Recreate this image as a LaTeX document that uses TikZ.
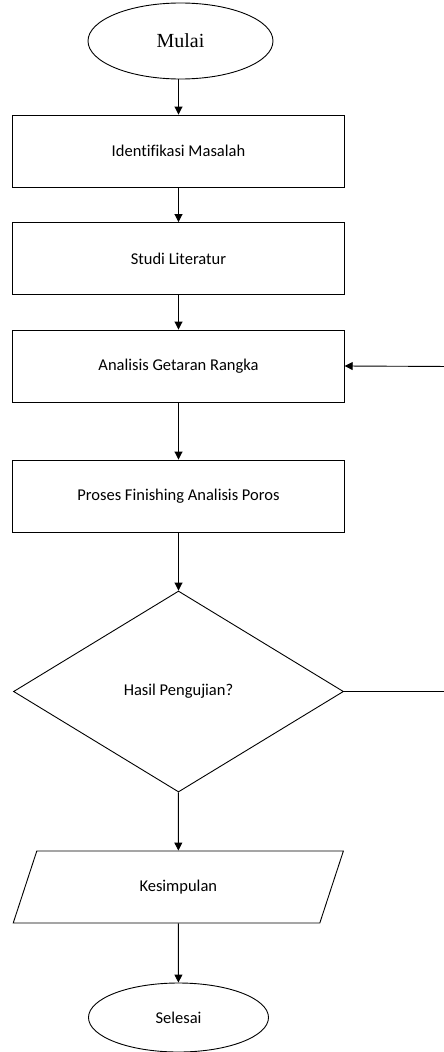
\documentclass[tikz,border=0pt]{standalone}
\usepackage{fontspec}
\setmainfont[Ligatures=NoCommon]{Carlito}
\newfontfamily\serifmul{Liberation Serif}
\usetikzlibrary{shapes.geometric,arrows.meta}
\begin{document}
\begin{tikzpicture}[x=1pt,y=-1pt,
  every node/.style={font=\fontsize{16.5}{19}\selectfont},
  proc/.style={draw,line width=0.9pt,rectangle,minimum width=331.5pt,minimum height=72pt,inner sep=0pt},
  term/.style={draw,line width=0.9pt,ellipse,inner sep=0pt},
  dec/.style={draw,line width=0.9pt,diamond,minimum width=330pt,minimum height=201pt,inner sep=0pt},
  io/.style={draw,line width=0.9pt,trapezium,trapezium left angle=65.4,trapezium right angle=114.6,trapezium stretches=true,minimum width=331.5pt,minimum height=72pt,inner sep=0pt},
  arr/.style={line width=0.9pt,-{Triangle[length=8pt,width=8pt]}},
  ln/.style={line width=0.9pt}]
\useasboundingbox (0,0) rectangle (444,1052);
\node[term,minimum width=185pt,minimum height=76pt,font=\serifmul\fontsize{20}{24}\selectfont] (mulai) at (180.5,41) {Mulai};
\node[proc] (b1) at (178.5,151) {Identifikasi Masalah};
\node[proc] (b2) at (178.5,258.5) {Studi Literatur};
\node[proc] (b3) at (178.5,366) {Analisis Getaran Rangka};
\node[proc] (b4) at (178.5,496) {Proses Finishing Analisis Poros};
\node[dec] (d) at (178.5,691.5) {Hasil Pengujian?};
\node[io] (k) at (178.3,887) {Kesimpulan};
\node[term,minimum width=180pt,minimum height=69pt] (sel) at (178.5,1017.5) {Selesai};
\coordinate (c1) at (452,691.5);
\coordinate (c2) at (452,366.5);
\draw[arr] (mulai.south -| b1.north) -- (b1.north);
\draw[arr] (b1) -- (b2);
\draw[arr] (b2) -- (b3);
\draw[arr] (b3) -- (b4);
\draw[arr] (b4) -- (d);
\draw[arr] (d) -- (k);
\draw[arr] (k.south) -- (sel);
\draw[arr] (d.east) -- (c1) -- (c2) -- (b3.east);
\end{tikzpicture}
\end{document}
